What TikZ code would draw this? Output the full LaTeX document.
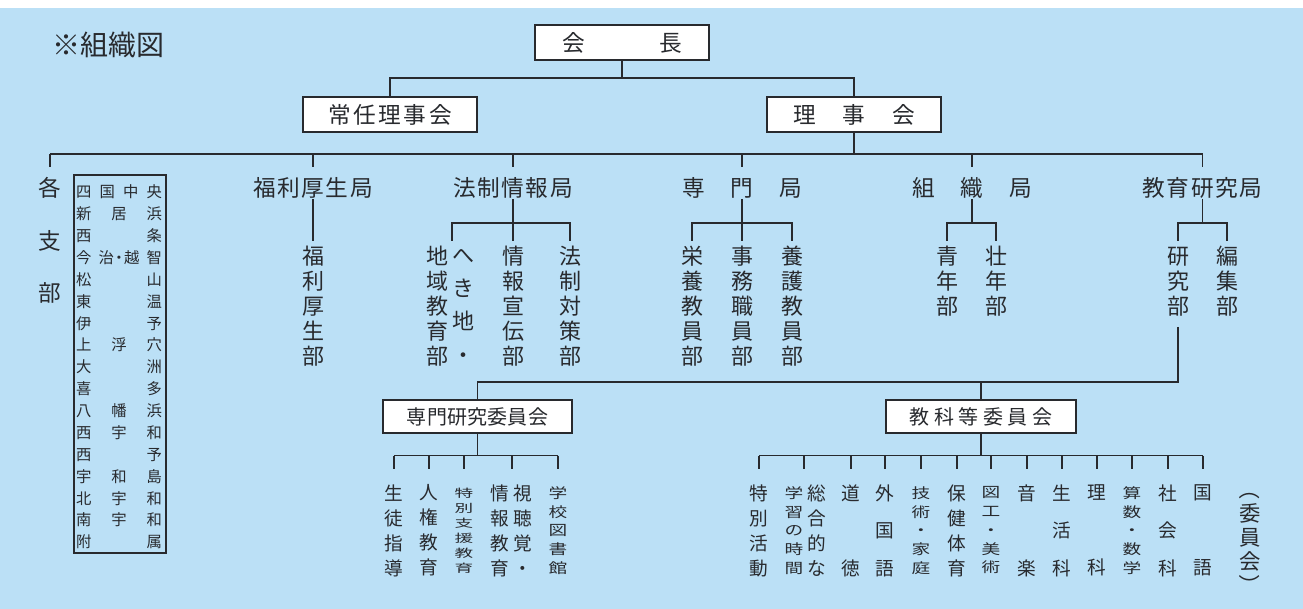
\documentclass[tikz,border=0pt]{standalone}
\usepackage{fontspec}
\newfontfamily\jp{Noto Sans CJK JP}
\definecolor{bgblue}{RGB}{187,224,246}
\definecolor{ink}{RGB}{40,42,46}
\newcommand{\nols}{\lineskiplimit=-100pt\relax}
\newcommand{\brow}[1]{\makebox[64.5pt]{#1}}
\newcommand{\rotp}[1]{\rotatebox[origin=c]{-90}{#1}}
\newcommand{\sqcol}[2]{\scalebox{1}[#1]{\vbox{\baselineskip=18.75pt\relax\lineskiplimit=-100pt\relax\lineskip=0pt\relax\halign{\hfil##\hfil\cr#2\crcr}}}}
\begin{document}
\begin{tikzpicture}[x=0.75pt,y=-0.75pt,
  every node/.style={text=ink},
  conn/.style={draw=ink, line width=1.1pt},
  obox/.style 2 args={draw=ink, line width=1.1pt, fill=white, minimum width=#1, minimum height=#2, inner sep=0pt},
  lab/.style={inner sep=0pt, minimum height=16.5pt, font={\jp\fontsize{17pt}{20pt}\selectfont}},
  col/.style 2 args={inner sep=0pt, align=center, font={\jp\fontsize{#1}{#2}\selectfont\nols}},
]
\fill[white] (0,0) rectangle (1303,609);
\fill[bgblue] (0,8) rectangle (1303,609);
\useasboundingbox (0,0) rectangle (1303,609);

% levels
\coordinate (Y1) at (0,78);
\coordinate (Y2) at (0,154);
\coordinate (Y2b) at (0,167);
\coordinate (Y3) at (0,223);
\coordinate (Y3b) at (0,241);
\coordinate (Y4a) at (0,327);
\coordinate (Y4) at (0,382);
\coordinate (Y5) at (0,455.5);
\coordinate (Y5b) at (0,469);

% title
\node[inner sep=0pt, font={\jp\fontsize{21pt}{24pt}\selectfont}] (title) at (108.5,45) {※組織図};

% top boxes
\node[obox={130.5pt}{26.25pt}, font={\jp\fontsize{17pt}{20pt}\selectfont}] (pres) at (622,42.5) {\makebox[90pt]{会\hfill 長}};
\node[obox={130.5pt}{26.25pt}, font={\jp\fontsize{17pt}{20pt}\selectfont}] (jonin) at (390,114.5) {\makebox[93pt]{常\hfill 任\hfill 理\hfill 事\hfill 会}};
\node[obox={130.5pt}{26.25pt}, font={\jp\fontsize{17pt}{20pt}\selectfont}] (riji) at (854,114.5) {\makebox[91.5pt]{理\hfill 事\hfill 会}};

% level 2
\node[col={17pt}{39.4pt}] (kaku) at (50,240.5) {各\\支\\部};
\node[lab] (fukuri) at (313,188) {\makebox[90pt]{福\hfill 利\hfill 厚\hfill 生\hfill 局}};
\node[lab] (hosei) at (513,188) {\makebox[90pt]{法\hfill 制\hfill 情\hfill 報\hfill 局}};
\node[lab] (senmon) at (742,188) {\makebox[90pt]{専\hfill 門\hfill 局}};
\node[lab] (soshiki) at (972,188) {\makebox[90pt]{組\hfill 織\hfill 局}};
\node[lab] (kyoiku) at (1202.5,188) {\makebox[90pt]{教\hfill 育\hfill 研\hfill 究\hfill 局}};

% branch box
\node[draw=ink, line width=0.8pt, minimum width=69pt, minimum height=283.5pt, inner sep=0pt] (brbox) at (120,364) {};
\node[inner sep=0pt, align=center, font={\jp\fontsize{11.5pt}{16.4pt}\selectfont\nols}] (brtext) at (119,367) {%
\brow{四\hfill 国\hfill 中\hfill 央}\\
\brow{新\hfill 居\hfill 浜}\\
\brow{西\hfill 条}\\
\brow{今\hfill 治\kern-2pt・\kern-2pt 越\hfill 智}\\
\brow{松\hfill 山}\\
\brow{東\hfill 温}\\
\brow{伊\hfill 予}\\
\brow{上\hfill 浮\hfill 穴}\\
\brow{大\hfill 洲}\\
\brow{喜\hfill 多}\\
\brow{八\hfill 幡\hfill 浜}\\
\brow{西\hfill 宇\hfill 和}\\
\brow{西\hfill 予}\\
\brow{宇\hfill 和\hfill 島}\\
\brow{北\hfill 宇\hfill 和}\\
\brow{南\hfill 宇\hfill 和}\\
\brow{附\hfill 属}};

% upper columns
\node[col={16.5pt}{18.75pt}] (fukuribu) at (313,306) {福\\利\\厚\\生\\部};
\node[col={16.5pt}{18.75pt}] (chiiki) at (437,306) {地\\域\\教\\育\\部};
\node[col={16.5pt}{25pt}] (hekichi) at (463,306) {へ\\き\\地\\・};
\coordinate (hekiP) at (452,306);
\node[col={16.5pt}{18.75pt}] (johosen) at (513,306) {情\\報\\宣\\伝\\部};
\node[col={16.5pt}{18.75pt}] (hoseitai) at (570,306) {法\\制\\対\\策\\部};
\node[col={16.5pt}{18.75pt}] (eiyo) at (692,306) {栄\\養\\教\\員\\部};
\node[col={16.5pt}{18.75pt}] (jimu) at (742,306) {事\\務\\職\\員\\部};
\node[col={16.5pt}{18.75pt}] (yogo) at (792,306) {養\\護\\教\\員\\部};
\node[col={16.5pt}{18.75pt}] (seinen) at (947,281.5) {青\\年\\部};
\node[col={16.5pt}{18.75pt}] (sonen) at (996,281.5) {壮\\年\\部};
\node[col={16.5pt}{18.75pt}] (kenkyu) at (1178,281.5) {研\\究\\部};
\node[col={16.5pt}{18.75pt}] (henshu) at (1227,281.5) {編\\集\\部};

% committee boxes
\node[obox={141.75pt}{24.75pt}, font={\jp\fontsize{15pt}{18pt}\selectfont}] (senken) at (477.5,416.5) {\makebox[106pt]{専\hfill 門\hfill 研\hfill 究\hfill 委\hfill 員\hfill 会}};
\node[obox={142.5pt}{24.75pt}, font={\jp\fontsize{15pt}{18pt}\selectfont}] (kyoka) at (981,416.5) {\makebox[107pt]{教\hfill 科\hfill 等\hfill 委\hfill 員\hfill 会}};

% lower columns: senmon kenkyu
\node[col={14pt}{18.75pt}] (seito) at (394,530.5) {生\\徒\\指\\導};
\node[col={14pt}{18.75pt}] (jinken) at (429,530.5) {人\\権\\教\\育};
\node[col={14pt}{18.75pt}] (tokushi) at (464,530.5) {\sqcol{0.6}{特\cr 別\cr 支\cr 援\cr 教\cr 育}};
\node[col={14pt}{18.75pt}] (johokyo) at (500,530.5) {情\\報\\教\\育};
\node[col={14pt}{18.75pt}] (shichou) at (523,530.5) {視\\聴\\覚\\・};
\coordinate (shichoP) at (512,530.5);
\node[col={14pt}{18.75pt}] (gakko) at (558,530.5) {\sqcol{0.75}{学\cr 校\cr 図\cr 書\cr 館}};

% lower columns: kyoka
\node[col={14pt}{18.75pt}] (tokkatsu) at (759,530.5) {特\\別\\活\\動};
\node[col={14pt}{18.75pt}] (gakushu) at (794,530.5) {\sqcol{0.75}{学\cr 習\cr の\cr 時\cr 間}};
\node[col={14pt}{18.75pt}] (sogo) at (817,530.5) {総\\合\\的\\な};
\coordinate (sogoP) at (804,530.5);
\node[col={14pt}{56.25pt}] (dotoku) at (851,530.5) {道\\徳};
\node[col={14pt}{28.125pt}] (gaikoku) at (885,530.5) {外\\国\\語};
\node[col={14pt}{18.75pt}] (gijutsu) at (921,530.5) {\sqcol{0.75}{技\cr 術\cr ・\cr 家\cr 庭}};
\node[col={14pt}{18.75pt}] (hoken) at (957,530.5) {保\\健\\体\\育};
\node[col={14pt}{18.75pt}] (zuko) at (991,530.5) {\sqcol{0.75}{図\cr 工\cr ・\cr 美\cr 術}};
\node[col={14pt}{56.25pt}] (ongaku) at (1027,530.5) {音\\楽};
\node[col={14pt}{28.125pt}] (seikatsu) at (1062,530.5) {生\\活\\科};
\node[col={14pt}{56.25pt}] (rika) at (1097,530.5) {理\\科};
\node[col={14pt}{18.75pt}] (sansu) at (1132,530.5) {\sqcol{0.75}{算\cr 数\cr ・\cr 数\cr 学}};
\node[col={14pt}{28.125pt}] (shakai) at (1168,530.5) {社\\会\\科};
\node[col={14pt}{56.25pt}] (kokugo) at (1203,530.5) {国\\語};
\node[col={16pt}{18pt}] (iinkai) at (1250,537) {\rotp{（}\\委\\員\\会\\\rotp{）}};

% connectors
\draw[conn] (pres.south) -- (pres.south |- Y1);
\draw[conn] (jonin.north) -- (jonin.north |- Y1) -- (riji.north |- Y1) -- (riji.north);
\draw[conn] (riji.south) -- (riji.south |- Y2);
\draw[conn] (kaku.north |- Y2) -- (kyoiku.north |- Y2);
\foreach \n in {kaku,fukuri,hosei,senmon,soshiki,kyoiku}
  \draw[conn] (\n.north |- Y2) -- (\n.north |- Y2b);

\draw[conn] (fukuri.south) -- (fukuribu.north |- Y3b);

\draw[conn] (hosei.south) -- (johosen.north |- Y3b);
\draw[conn] (hekiP |- Y3b) -- (hekiP |- Y3) -- (hoseitai.north |- Y3) -- (hoseitai.north |- Y3b);

\draw[conn] (senmon.south) -- (jimu.north |- Y3b);
\draw[conn] (eiyo.north |- Y3b) -- (eiyo.north |- Y3) -- (yogo.north |- Y3) -- (yogo.north |- Y3b);

\draw[conn] (soshiki.south) -- (soshiki.south |- Y3);
\draw[conn] (seinen.north |- Y3b) -- (seinen.north |- Y3) -- (sonen.north |- Y3) -- (sonen.north |- Y3b);

\draw[conn] (kyoiku.south) -- (kyoiku.south |- Y3);
\draw[conn] (kenkyu.north |- Y3b) -- (kenkyu.north |- Y3) -- (henshu.north |- Y3) -- (henshu.north |- Y3b);

\draw[conn] (kenkyu.south |- Y4a) -- (kenkyu.south |- Y4) -| (senken.north);
\draw[conn] (kyoka.north) -- (kyoka.north |- Y4);

\draw[conn] (senken.south) -- (senken.south |- Y5);
\draw[conn] (seito |- Y5) -- (gakko |- Y5);
\foreach \n in {seito,jinken,tokushi,shichoP,gakko}
  \draw[conn] (\n |- Y5) -- (\n |- Y5b);

\draw[conn] (kyoka.south) -- (kyoka.south |- Y5);
\draw[conn] (tokkatsu |- Y5) -- (kokugo |- Y5);
\foreach \n in {tokkatsu,sogoP,dotoku,gaikoku,gijutsu,hoken,zuko,ongaku,seikatsu,rika,sansu,shakai,kokugo}
  \draw[conn] (\n |- Y5) -- (\n |- Y5b);
\end{tikzpicture}
\end{document}
